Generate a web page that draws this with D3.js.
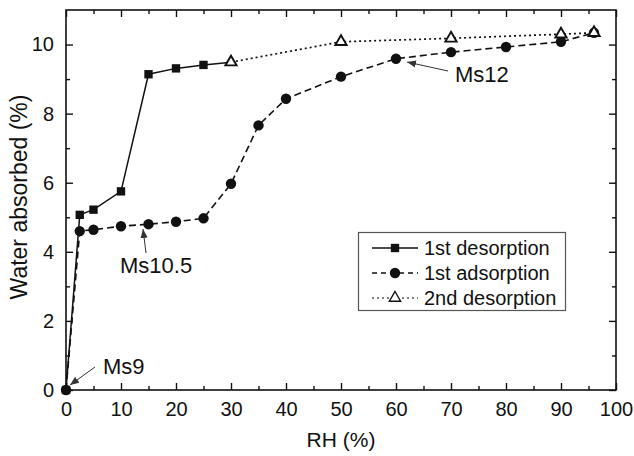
<!DOCTYPE html>
<html><head><meta charset="utf-8">
<script src="https://cdn.jsdelivr.net/npm/d3@7"></script>
<style>
html,body{margin:0;padding:0;background:#fff;}
svg{display:block;font-family:"Liberation Sans",Arial,sans-serif;}
</style></head>
<body><svg id="c" width="634" height="456"></svg>
<script>
const desorp1RH = [0, 2.5, 5, 10, 15, 20, 25, 30];
const desorp1W  = [0, 5.07, 5.22, 5.75, 9.14, 9.31, 9.41, 9.49];
const adsorp1RH = [0, 2.5, 5, 10, 15, 20, 25, 30, 35, 40, 50, 60, 70, 80, 90, 96];
const adsorp1W  = [0, 4.6, 4.64, 4.74, 4.8, 4.87, 4.97, 5.97, 7.66, 8.43, 9.07, 9.59, 9.78, 9.93, 10.08, 10.34];
const desorp2RH = [30, 50, 70, 90, 96];
const desorp2W  = [9.49, 10.08, 10.18, 10.3, 10.34];
const xTicks = [0, 10, 20, 30, 40, 50, 60, 70, 80, 90, 100];
const yTicks = [0, 2, 4, 6, 8, 10];
const seriesNames = ["1st desorption", "1st adsorption", "2nd desorption"];
const annotations = [
  {text: "Ms9", tx: 103, ty: 374, x1: 95, y1: 367, x2: 70, y2: 385},
  {text: "Ms10.5", tx: 120, ty: 273, x1: 146, y1: 253, x2: 143, y2: 229},
  {text: "Ms12", tx: 455, ty: 82, x1: 448, y1: 71, x2: 407, y2: 62}
];

const svg = d3.select("#c");
const L = 66, R = 616, T = 10, B = 390;
const x = d3.scaleLinear().domain([0, 100]).range([L, R]);
const y = d3.scaleLinear().domain([0, 11]).range([B, T]);
const ink = "#111";

svg.append("defs").append("marker").attr("id", "ah")
  .attr("viewBox", "0 0 10 10").attr("refX", 10).attr("refY", 5)
  .attr("markerWidth", 9).attr("markerHeight", 9).attr("markerUnits", "userSpaceOnUse")
  .attr("orient", "auto")
  .append("path").attr("d", "M0,1 L10,5 L0,9 Z").attr("fill", "#333");

function styleAxis(g, showText) {
  g.select(".domain").remove();
  g.selectAll(".tick line").attr("stroke", ink).attr("stroke-width", 1.4);
  g.selectAll(".tick text").attr("fill", ink).attr("font-size", 20)
    .attr("font-family", "Liberation Sans, Arial, sans-serif");
  if (!showText) g.selectAll(".tick text").remove();
}
const xMinor = d3.range(5, 100, 10);
const yMinor = d3.range(1, 11, 2);

svg.append("g").attr("transform", `translate(0,${B})`)
  .call(d3.axisBottom(x).tickValues(xTicks).tickSize(-7).tickPadding(12).tickFormat(d3.format("d")))
  .call(g => styleAxis(g, true));
svg.append("g").attr("transform", `translate(0,${B})`)
  .call(d3.axisBottom(x).tickValues(xMinor).tickSize(-4)).call(g => styleAxis(g, false));
svg.append("g").attr("transform", `translate(0,${T})`)
  .call(d3.axisTop(x).tickValues(xTicks).tickSize(-7)).call(g => styleAxis(g, false));
svg.append("g").attr("transform", `translate(0,${T})`)
  .call(d3.axisTop(x).tickValues(xMinor).tickSize(-4)).call(g => styleAxis(g, false));
svg.append("g").attr("transform", `translate(${L},0)`)
  .call(d3.axisLeft(y).tickValues(yTicks).tickSize(-7).tickPadding(12).tickFormat(d3.format("d")))
  .call(g => styleAxis(g, true));
svg.append("g").attr("transform", `translate(${L},0)`)
  .call(d3.axisLeft(y).tickValues(yMinor).tickSize(-4)).call(g => styleAxis(g, false));
svg.append("g").attr("transform", `translate(${R},0)`)
  .call(d3.axisRight(y).tickValues(yTicks).tickSize(-7)).call(g => styleAxis(g, false));
svg.append("g").attr("transform", `translate(${R},0)`)
  .call(d3.axisRight(y).tickValues(yMinor).tickSize(-4)).call(g => styleAxis(g, false));

svg.append("rect").attr("x", L).attr("y", T).attr("width", R - L).attr("height", B - T)
  .attr("fill", "none").attr("stroke", ink).attr("stroke-width", 1.6);

svg.append("text").attr("x", (L + R) / 2).attr("y", 447).attr("text-anchor", "middle")
  .attr("font-size", 21).attr("fill", ink).text("RH (%)");
svg.append("text").attr("transform", `translate(27,${(T + B) / 2 - 3}) rotate(-90)`)
  .attr("text-anchor", "middle").attr("font-size", 23).attr("fill", ink).text("Water absorbed (%)");

const line = d3.line().x(d => x(d[0])).y(d => y(d[1]));
const d1 = d3.zip(desorp1RH, desorp1W);
const a1 = d3.zip(adsorp1RH, adsorp1W);
const d2 = d3.zip(desorp2RH, desorp2W);

svg.append("path").datum(a1).attr("d", line).attr("fill", "none").attr("stroke", ink)
  .attr("stroke-width", 1.6).attr("stroke-dasharray", "7,4");
svg.append("path").datum(d2).attr("d", line).attr("fill", "none").attr("stroke", ink)
  .attr("stroke-width", 1.7).attr("stroke-dasharray", "2,3");
svg.append("path").datum(d1).attr("d", line).attr("fill", "none").attr("stroke", ink)
  .attr("stroke-width", 1.5);

const sq = d3.symbol().type(d3.symbolSquare).size(70);
const ci = d3.symbol().type(d3.symbolCircle).size(85);
const tr = d3.symbol().type(d3.symbolTriangle).size(55);

svg.append("g").selectAll("path").data(a1).join("path")
  .attr("transform", d => `translate(${x(d[0])},${y(d[1])})`).attr("d", ci).attr("fill", ink);
svg.append("g").selectAll("path").data(d1.slice(0, -1)).join("path")
  .attr("transform", d => `translate(${x(d[0])},${y(d[1])})`).attr("d", sq).attr("fill", ink);
svg.append("g").selectAll("path").data(d2).join("path")
  .attr("transform", d => `translate(${x(d[0])},${y(d[1])})`).attr("d", tr)
  .attr("fill", "#fff").attr("stroke", ink).attr("stroke-width", 1.9);

const lg = svg.append("g");
lg.append("rect").attr("x", 358.5).attr("y", 232.5).attr("width", 207).attr("height", 78)
  .attr("fill", "#fff").attr("stroke", "#555").attr("stroke-width", 1.2);
const legY = [248, 273, 298];
const dashes = [null, "5,4", "2,3"];
const syms = [sq, ci, tr];
seriesNames.forEach((n, i) => {
  lg.append("line").attr("x1", 372).attr("x2", 418).attr("y1", legY[i]).attr("y2", legY[i])
    .attr("stroke", i === 2 ? "#555" : ink).attr("stroke-width", 1.3).attr("stroke-dasharray", dashes[i]);
  lg.append("path").attr("transform", `translate(395,${legY[i]})`).attr("d", syms[i])
    .attr("fill", i === 2 ? "#fff" : ink).attr("stroke", i === 2 ? ink : "none").attr("stroke-width", 1.4);
  lg.append("text").attr("x", 424).attr("y", legY[i]).attr("dy", "0.35em")
    .attr("font-size", 20).attr("fill", ink).text(n);
});

annotations.forEach(a => {
  svg.append("line").attr("x1", a.x1).attr("y1", a.y1).attr("x2", a.x2).attr("y2", a.y2)
    .attr("stroke", "#333").attr("stroke-width", 1).attr("marker-end", "url(#ah)");
  svg.append("text").attr("x", a.tx).attr("y", a.ty).attr("font-size", 22).attr("fill", ink).text(a.text);
});
</script></body></html>
